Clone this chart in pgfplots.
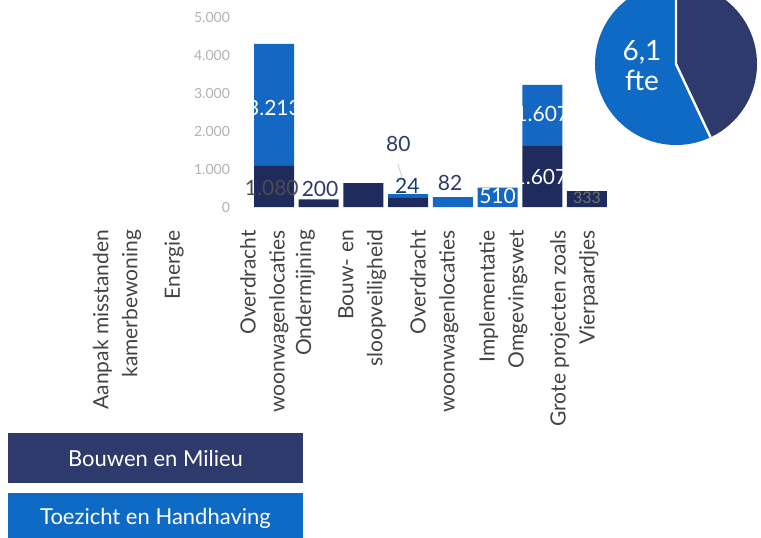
\documentclass[border=0pt]{standalone}
\usepackage{pgfplots}
\pgfplotsset{compat=1.18}
\usepackage{fontspec}
\setmainfont{Lato}
\definecolor{bmDark}{HTML}{1F2B5C}
\definecolor{thBlue}{HTML}{1467C3}
\definecolor{legDark}{HTML}{2E3A6C}
\definecolor{legBlue}{HTML}{0F6AC6}
\definecolor{labNavy}{HTML}{2E3A6B}
\definecolor{catText}{HTML}{444444}

% pie shares (fte)
\def\pieTH{6.1}
\def\pieBM{4.6}

\begin{document}
\begin{tikzpicture}[x=0.5pt,y=0.5pt,
  lbl/.style={font=\fontsize{10.5}{12}\selectfont}]
\path[use as bounding box] (0,0) rectangle (761,537);
\clip (0,0) rectangle (761,537);
% axis origin at pixel (229.3, 207 from top) -> (114.65pt, 165pt)
\begin{axis}[
  at={(114.65pt,165pt)}, anchor=origin,
  scale only axis, width=264.7pt, height=95pt,
  xmin=-3.34, xmax=8.5, ymin=0, ymax=5000,
  ybar stacked, bar width=20pt,
  axis line style={draw=none}, major tick length=0pt,
  clip=false,
  xtick={-2.777,-1.502,0.512,1.429,2.704,4.315,5.858,7.447},
  xticklabels={{Aanpak misstanden\\kamerbewoning},Energie,{Overdracht\\woonwagenlocaties},Ondermijning,{Bouw- en\\sloopveiligheid},{Overdracht\\woonwagenlocaties},{Implementatie\\Omgevingswet},{Grote projecten zoals\\Vierpaardjes}},
  % shifts act in the rotated frame: xshift moves down, yshift moves right
  x tick label style={rotate=90, anchor=east, align=right, text=catText,
    font=\fontsize{10.5}{14.5}\selectfont, xshift=-8pt, yshift=-6pt},
  ytick={0,1000,2000,3000,4000,5000},
  yticklabel style={font=\fontsize{7}{8}\selectfont, text=black!30, xshift=78.5pt},
  /pgf/number format/1000 sep={.},
  /pgf/number format/assume math mode=true,
]
\addplot[fill=bmDark, draw=none] coordinates {(1,1080) (2,200) (3,630) (4,240) (5,0) (6,0) (7,1607) (8,420)};
\addplot[fill=thBlue, draw=none] coordinates {(1,3213) (2,0) (3,0) (4,100) (5,260) (6,510) (7,1607) (8,0)};

\coordinate (a1) at (axis cs:1,2605);
\coordinate (a2) at (axis cs:0.95,500);
\coordinate (a3) at (axis cs:2.03,474);
\coordinate (a4) at (axis cs:3.78,1658);
\coordinate (b4) at (axis cs:3.77,1132);
\coordinate (c4) at (axis cs:3.86,790);
\coordinate (a5) at (axis cs:3.98,553);
\coordinate (a6) at (axis cs:4.94,632);
\coordinate (a7) at (axis cs:6,290);
\coordinate (a8) at (axis cs:7,2447);
\coordinate (a9) at (axis cs:6.96,790);
\coordinate (a10) at (axis cs:8,250);
\end{axis}

% data labels
\node[lbl, text=white] at (a1) {3.213};
\node[lbl, text=black!70] at (a2) {1.080};
\node[lbl, text=labNavy] at (a3) {200};
\node[lbl, text=labNavy] at (a4) {80};
\draw[thBlue!40, line width=0.3pt] (b4) -- (c4);
\node[lbl, text=thBlue!60!black] at (a5) {24};
\node[lbl, text=labNavy] at (a6) {82};
\node[lbl, text=white] at (a7) {510};
\node[lbl, text=white] at (a8) {1.607};
\node[lbl, text=white] at (a9) {1.607};
\node[text=black!55, font=\fontsize{8}{9}\selectfont] at (a10) {333};

% legend boxes
\node[fill=legDark, text=white, minimum width=147.5pt, minimum height=25pt, inner sep=0pt,
  font=\fontsize{11}{13}\selectfont] at (155.5,79) {Bouwen en Milieu};
\node[fill=legBlue, text=white, minimum width=147.5pt, minimum height=25pt, inner sep=0pt,
  font=\fontsize{11}{13}\selectfont] at (155.5,19) {Toezicht en Handhaving};

% pie
\pgfmathsetmacro{\pieEnd}{90-360*\pieBM/(\pieTH+\pieBM)}
\begin{scope}[shift={(676,473)}]
\fill[legDark] (0,0) -- (90:81) arc[start angle=90, end angle=\pieEnd, radius=81] -- cycle;
\fill[legBlue] (0,0) -- (\pieEnd:81) arc[start angle=\pieEnd, end angle=-270, radius=81] -- cycle;
\draw[white, line width=1.2pt] (90:81) -- (0,0) -- (\pieEnd:81);
\end{scope}
\node[text=white, align=center, font=\fontsize{14}{15}\selectfont] at (642,471) {6,1\\fte};
\end{tikzpicture}
\end{document}
